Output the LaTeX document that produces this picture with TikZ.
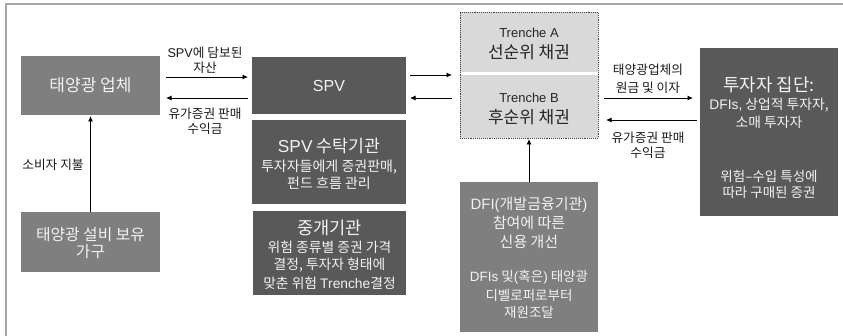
\documentclass[tikz,border=0pt]{standalone}
\usepackage{fontspec}
\setmainfont{Noto Sans CJK KR}
\newfontfamily\latf{Liberation Sans}
\newcommand\latx[1]{{\latf #1}}
\newcommand\fsz[1]{\fontsize{#1}{#1}\selectfont}
\usetikzlibrary{arrows.meta,calc}
\definecolor{midgray}{HTML}{7F7F7F}
\definecolor{darkgray}{HTML}{595959}
\definecolor{lightfill}{HTML}{D9D9D9}
\definecolor{framegray}{HTML}{A6A6A6}
\definecolor{boxtext}{HTML}{F2F2F2}
\definecolor{labeltext}{HTML}{1A1A1A}
\begin{document}
\begin{tikzpicture}[x=1pt,y=-1pt,
  box/.style={rectangle, inner sep=0pt, outer sep=0pt, align=center, text=boxtext},
  midbox/.style={box, fill=midgray},
  darkbox/.style={box, fill=darkgray},
  trbox/.style={rectangle, inner sep=0pt, outer sep=0pt, fill=lightfill},
  txt/.style={inner sep=0pt, outer sep=0pt, text=boxtext},
  trtxt/.style={inner sep=0pt, outer sep=0pt, text=black!85},
  lbl/.style={inner sep=0pt, outer sep=0pt, text=labeltext, font=\fsz{12.7}},
  arr/.style={draw=black, line width=0.8pt, -{Latex[length=5.5pt,width=5pt]}},
]
\useasboundingbox (0,0) rectangle (843,336);
% frame
\draw[framegray, line width=1.8pt] (6,336) -- (6,4) -- (843,4);

% ---- boxes ----
\node[midbox, minimum width=139pt, minimum height=59pt, font=\fsz{17}] (sun) at (90.5,85.5) {태양광 업체};

\node[midbox, minimum width=139pt, minimum height=60pt] (home) at (90.5,242) {};
\node[txt, font=\fsz{15.8}] (home1) at (90.5,235) {태양광 설비 보유};
\node[txt, font=\fsz{15.8}] (home2) at (90.5,252) {가구};

\node[darkbox, minimum width=154pt, minimum height=57pt, font=\latf\fsz{16}] (spv) at (329,85.5) {SPV};

\node[darkbox, minimum width=154pt, minimum height=84pt] (trustee) at (329,162) {};
\node[txt, font=\fsz{17.3}] (tru1) at (329,146) {\latx{SPV} 수탁기관};
\node[txt, font=\fsz{14}] (tru2) at (329,167) {투자자들에게 증권판매,};
\node[txt, font=\fsz{14}] (tru3) at (329,183) {펀드 흐름 관리};

\node[darkbox, minimum width=153pt, minimum height=84pt] (broker) at (329.5,253) {};
\node[txt, font=\fsz{17.6}] (bro1) at (329.5,228) {중개기관};
\node[txt, font=\fsz{13.8}] (bro2) at (329.5,247) {위험 종류별 증권 가격};
\node[txt, font=\fsz{13.8}] (bro3) at (329.5,265.5) {결정, 투자자 형태에};
\node[txt, font=\fsz{13.8}] (bro4) at (329.5,283) {맞춘 위험 \latx{Trenche}결정};

% ---- tranche boxes ----
\node[trbox, minimum width=138pt, minimum height=60pt] (trA) at (529,42) {};
\node[trbox, minimum width=138pt, minimum height=63pt] (trB) at (529,106.5) {};
\node[trtxt, font=\latf\fsz{13}] (trA1) at (529,33) {Trenche A};
\node[trtxt, font=\fsz{17}] (trA2) at (529,52) {선순위 채권};
\node[trtxt, font=\latf\fsz{13}] (trB1) at (529,98) {Trenche B};
\node[trtxt, font=\fsz{17}] (trB2) at (529,117) {후순위 채권};
\node[rectangle, draw=black!75, densely dotted, line width=0.9pt, minimum width=138pt, minimum height=126pt, inner sep=0pt, outer sep=0pt] (tr) at (529,75) {};

% ---- DFI ----
\node[midbox, minimum width=138pt, minimum height=150pt] (dfi) at (529,257) {};
\node[txt, font=\fsz{15}] (dfi1) at (529,205) {\latx{DFI(}개발금융기관\latx{)}};
\node[txt, font=\fsz{15}] (dfi2) at (529,223) {참여에 따른};
\node[txt, font=\fsz{15}] (dfi3) at (529,242) {신용 개선};
\node[txt, font=\fsz{13.5}] (dfi4) at (529,277.5) {\latx{DFIs} 및\latx{(}혹은\latx{)} 태양광};
\node[txt, font=\fsz{13.5}] (dfi5) at (529,295) {디벨로퍼로부터};
\node[txt, font=\fsz{13.5}] (dfi6) at (529,312) {재원조달};

% ---- investors ----
\node[darkbox, minimum width=138pt, minimum height=168pt] (inv) at (769,132) {};
\node[txt, font=\fsz{17.8}] (inv1) at (769,85) {투자자 집단:};
\node[txt, font=\fsz{13.8}] (inv2) at (769,105) {\latx{DFIs,} 상업적 투자자,};
\node[txt, font=\fsz{13.8}] (inv3) at (769,122) {소매 투자자};
\node[txt, font=\fsz{13.5}] (inv4) at (769,176.5) {위험–수입 특성에};
\node[txt, font=\fsz{13.5}] (inv5) at (769,192.5) {따라 구매된 증권};

% ---- arrows left pair ----
\draw[arr, shorten <=6pt, shorten >=4pt] ([yshift=8.5pt]sun.east) -- ([yshift=8.5pt]spv.west);
\draw[arr, shorten <=4pt, shorten >=6pt] ([yshift=-12.5pt]spv.west) -- ([yshift=-12.5pt]sun.east);
\node[lbl] (l1a) at (205,53) {\latx{SPV}에 담보된};
\node[lbl] (l1b) at (205,68) {자산};
\node[lbl] (l2a) at (205,114) {유가증권 판매};
\node[lbl] (l2b) at (205,128.5) {수익금};

% ---- SPV - tranche ----
\draw[arr, shorten <=4pt, shorten >=8pt] ([yshift=10.5pt]spv.east) -- ([yshift=10.5pt]spv.east -| tr.west);
\draw[arr, shorten <=8pt, shorten >=4pt] ([yshift=-12.5pt]spv.east -| tr.west) -- ([yshift=-12.5pt]spv.east);

% ---- tranche - investors ----
\draw[arr, shorten <=6pt, shorten >=7pt] ([yshift=-23pt]tr.east) -- ([yshift=-23pt]tr.east -| inv.west);
\draw[arr, shorten <=3pt, shorten >=8pt] ([yshift=12pt]inv.west) -- ([yshift=12pt]inv.west -| tr.east);
\node[lbl] (l3a) at (648,70) {태양광업체의};
\node[lbl] (l3b) at (648,88) {원금 및 이자};
\node[lbl] (l4a) at (648,138) {유가증권 판매};
\node[lbl] (l4b) at (648,153) {수익금};

% ---- vertical arrows ----
\draw[arr, shorten >=1pt] (home.north) -- (sun.south);
\node[lbl] (l5) at (53,165) {소비자 지불};
\draw[arr, shorten >=1pt] (dfi.north) -- (tr.south);
\end{tikzpicture}
\end{document}
